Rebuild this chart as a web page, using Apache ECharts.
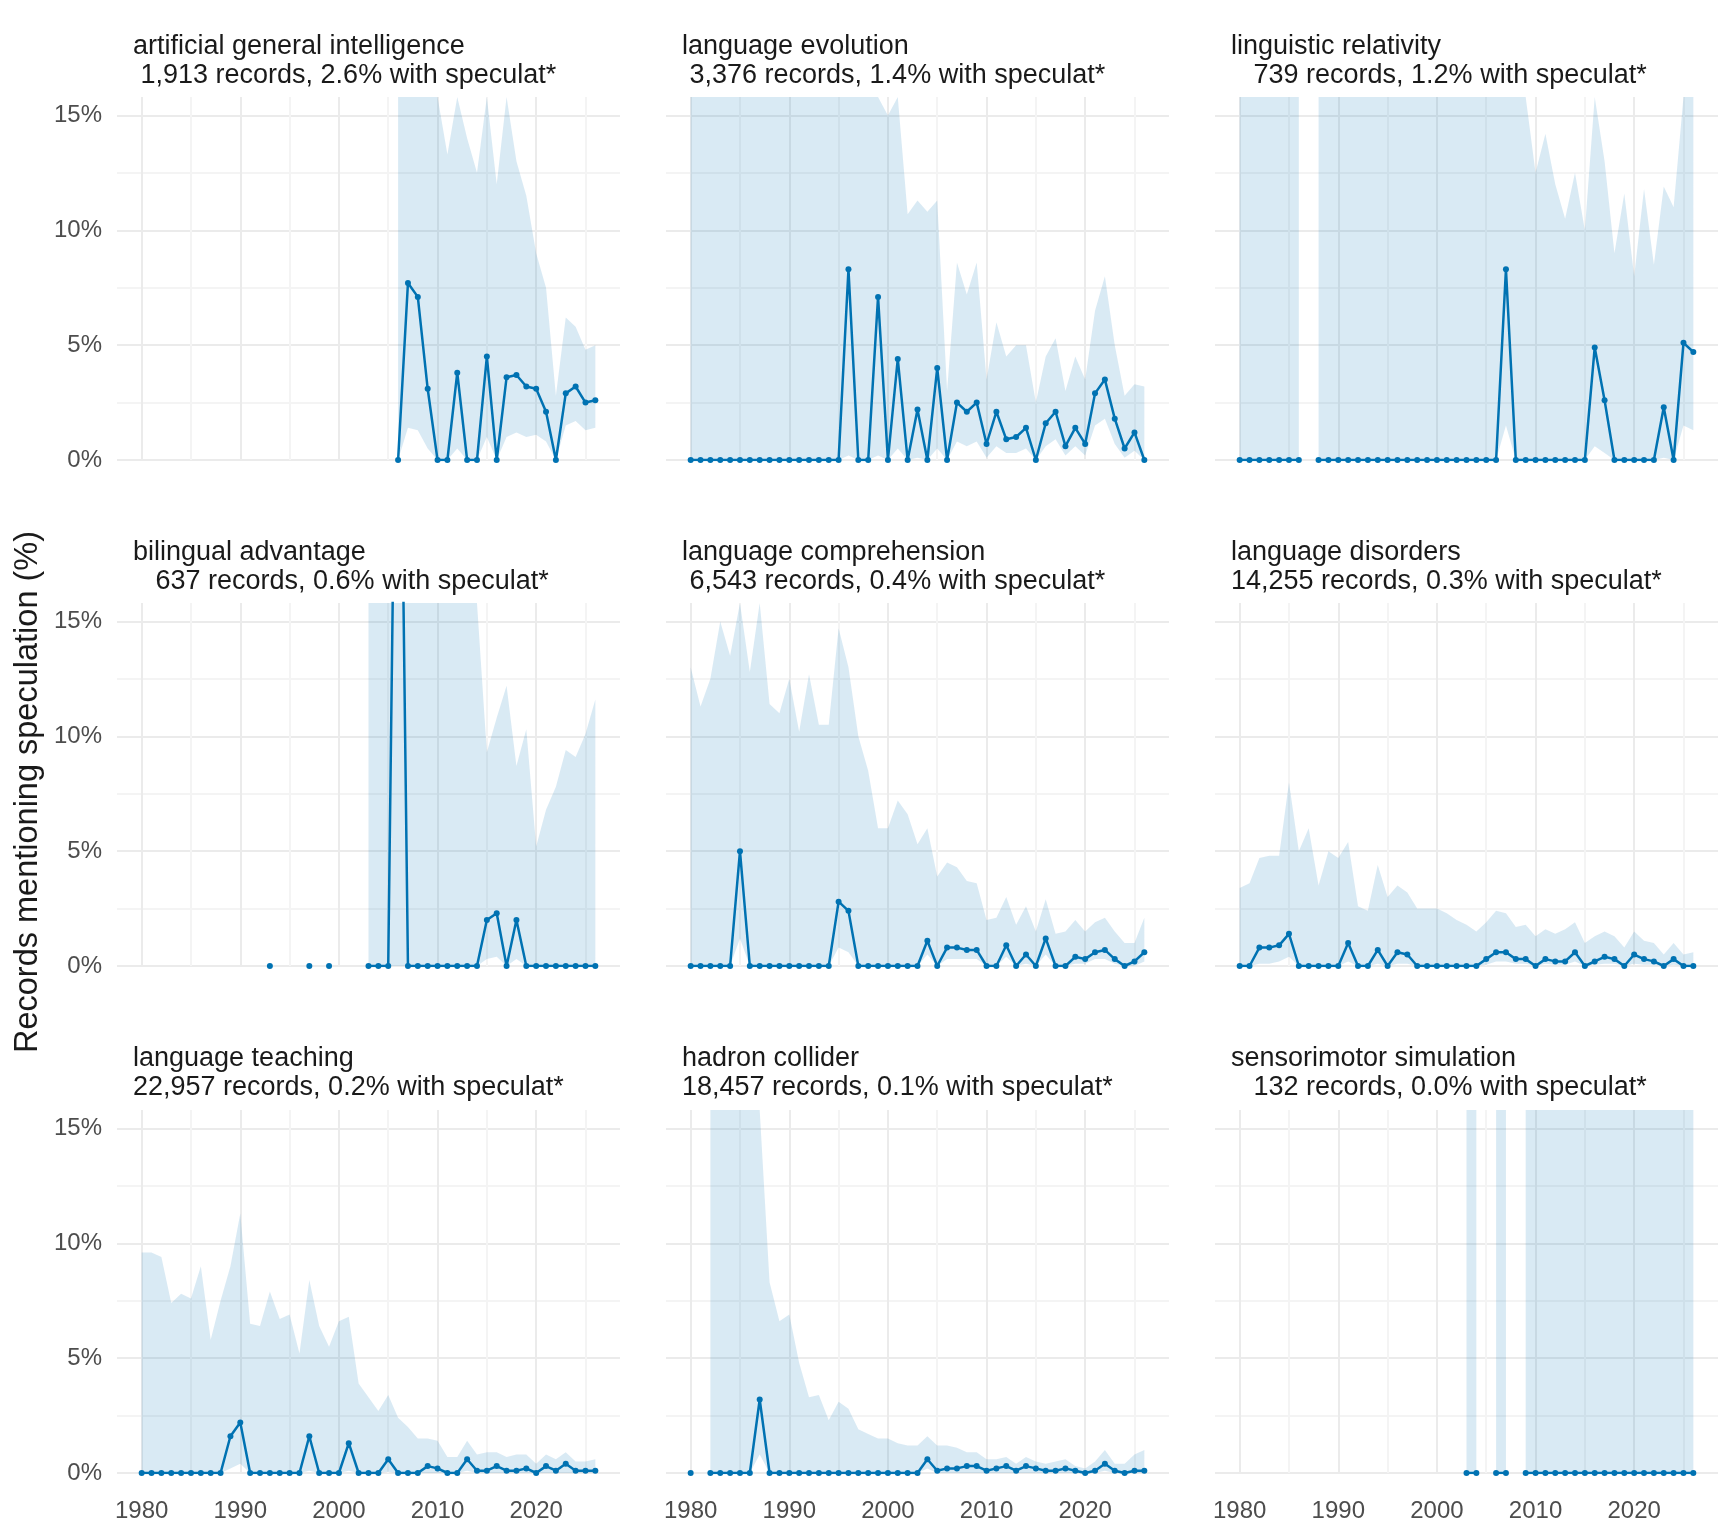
<!DOCTYPE html>
<html style="height: 100%">
<head>
<meta charset="utf-8">
<script src="https://cdn.jsdelivr.net/npm/echarts@6/dist/echarts.min.js"></script>
</head>
<body style="height: 100%; margin: 0; background: #fff">
<div id="container" style="width: 1728px; height: 1536px;"></div>
<script>
// years 1980..2026, one value per year (null = no data); 40 = above the visible range
var titles = [
	'artificial general intelligence\n 1,913 records, 2.6% with speculat*',
	'language evolution\n 3,376 records, 1.4% with speculat*',
	'linguistic relativity\n   739 records, 1.2% with speculat*',
	'bilingual advantage\n   637 records, 0.6% with speculat*',
	'language comprehension\n 6,543 records, 0.4% with speculat*',
	'language disorders\n14,255 records, 0.3% with speculat*',
	'language teaching\n22,957 records, 0.2% with speculat*',
	'hadron collider\n18,457 records, 0.1% with speculat*',
	'sensorimotor simulation\n   132 records, 0.0% with speculat*'
];
var N = null;
// artificial general intelligence (from 2006)
var agiPct = [0,7.7,7.1,3.1,0,0,3.8,0,0,4.5,0,3.6,3.7,3.2,3.1,2.1,0,2.9,3.2,2.5,2.6];
var agiLo  = [0,1.4,1.3,0.5,0,0,0.5,0,0,1.0,0,1.0,1.2,1.0,1.1,0.8,0,1.5,1.7,1.3,1.4];
var agiHi  = [40,40,40,40,40,13.3,40,14,12.5,40,12,40,13,11.5,9,7.5,2.8,6.2,5.8,4.8,5.0];
// language evolution
var evoPct = [0,0,0,0,0,0,0,0,0,0,0,0,0,0,0,0,
	8.3,0,0,7.1,0,4.4,0,2.2,0,4.0,0,2.5,2.1,2.5,0.7,2.1,0.9,1.0,1.4,0,1.6,2.1,0.6,1.4,0.7,2.9,3.5,1.8,0.5,1.2,0];
var evoLo  = [0,0,0,0,0,0,0,0,0,0,0,0,0,0,0,0,
	0.2,0,0,0.2,0,0.5,0,0.1,0,0.5,0,0.8,0.6,0.8,0.1,0.6,0.3,0.3,0.5,0,0.6,0.9,0.2,0.6,0.2,1.5,1.8,0.7,0.1,0.4,0];
var evoHi  = [40,40,40,40,40,40,40,40,40,40,40,40,40,40,40,40,40,40,40,
	40,15,40,10.7,11.3,10.8,11.3,3.0,8.6,7.2,8.6,3.5,6.0,4.5,5.0,5.0,2.5,4.5,5.3,3.0,4.5,3.5,6.5,8.0,5.0,2.8,3.3,3.2];
// linguistic relativity
var relPct = [0,0,0,0,0,0,0,N,0,0,0,0,0,0,0,0,0,0,0,0,0,0,0,0,0,0,0,
	8.3,0,0,0,0,0,0,0,0,4.9,2.6,0,0,0,0,0,2.3,0,5.1,4.7];
var relLo  = [0,0,0,0,0,0,0,N,0,0,0,0,0,0,0,0,0,0,0,0,0,0,0,0,0,0,0,
	1.5,0,0,0,0,0,0,0,0,0.6,0.3,0,0,0,0,0,0.1,0,1.5,1.3];
var relHi  = [40,40,40,40,40,40,40,N,40,40,40,40,40,40,40,40,40,40,40,40,40,40,40,40,40,40,40,40,40,40,
	12.5,14.2,12,10.5,12.5,10,40,13,9.0,11.6,8.0,11.8,8.5,11.9,11.0,40,40];
// bilingual advantage
var bilPct = [N,N,N,N,N,N,N,N,N,N,N,N,N,0,N,N,N,0,N,0,N,N,N,
	0,0,0,35,0,0,0,0,0,0,0,0,2.0,2.3,0,2.0,0,0,0,0,0,0,0,0];
var bilLo  = [N,N,N,N,N,N,N,N,N,N,N,N,N,N,N,N,N,N,N,N,N,N,N,
	0,0,0,0,0,0,0,0,0,0,0,0,0.3,0.4,0,0.3,0,0,0,0,0,0,0,0];
var bilHi  = [N,N,N,N,N,N,N,N,N,N,N,N,N,N,N,N,N,N,N,N,N,N,N,
	40,40,40,40,40,40,40,40,40,40,40,40,9.3,10.8,12.2,8.7,10.3,5.2,6.8,7.8,9.4,9.1,10.1,11.6];
// language comprehension
var comPct = [0,0,0,0,0,5.0,0,0,0,0,0,0,0,0,0,2.8,2.4,0,0,0,0,0,0,0,
	1.1,0,0.8,0.8,0.7,0.7,0,0,0.9,0,0.5,0,1.2,0,0,0.4,0.3,0.6,0.7,0.3,0,0.2,0.6];
var comLo  = [0,0,0,0,0,1.2,0,0,0,0,0,0,0,0,0,0.8,0.6,0,0,0,0,0,0,0,
	0.5,0,0.3,0.3,0.3,0.3,0,0,0.4,0,0.1,0,0.5,0,0,0.1,0.1,0.3,0.3,0.1,0,0,0.2];
var comHi  = [13.0,11.3,12.5,15.0,13.5,40,12.8,40,11.4,11.0,12.5,10.2,12.7,10.5,10.5,14.7,13.0,10.0,8.5,6.0,
	6.0,7.2,6.6,5.3,6.0,3.9,4.5,4.3,3.7,3.6,2.0,2.1,3.0,1.8,2.6,1.5,2.9,1.4,1.5,2.0,1.5,1.9,2.1,1.5,1.0,1.0,2.1];
// language disorders
var disPct = [0,0,0.8,0.8,0.9,1.4,0,0,0,0,0,1.0,0,0,0.7,0,0.6,0.5,0,0,
	0,0,0,0,0,0.3,0.6,0.6,0.3,0.3,0,0.3,0.2,0.2,0.6,0,0.2,0.4,0.3,0,0.5,0.3,0.2,0,0.3,0,0];
var disLo  = [0,0,0.1,0.1,0.2,0.4,0,0,0,0,0,0.2,0,0,0.1,0,0.1,0.1,0,0,
	0,0,0,0,0,0.05,0.2,0.2,0.1,0.1,0,0.1,0.05,0.05,0.2,0,0.05,0.1,0.1,0,0.1,0.05,0.05,0,0.05,0,0];
var disHi  = [3.4,3.6,4.7,4.8,4.8,8.0,5.0,6.0,3.5,5.0,4.7,5.4,2.6,2.4,4.4,3.0,3.5,3.2,2.5,2.5,
	2.5,2.3,2.0,1.8,1.5,1.9,2.4,2.3,1.7,1.8,1.3,1.6,1.4,1.6,1.9,1.0,1.3,1.5,1.3,0.8,1.5,1.1,1.0,0.5,1.0,0.5,0.6];
// language teaching
var teaPct = [0,0,0,0,0,0,0,0,0,1.6,2.2,0,0,0,0,0,0,1.6,0,0,0,1.3,0,0,0,0.6,0,0,0,
	0.3,0.2,0,0,0.6,0.1,0.1,0.3,0.1,0.1,0.2,0,0.3,0.1,0.4,0.1,0.1,0.1];
var teaLo  = [0,0,0,0,0,0,0,0,0,0.2,0.4,0,0,0,0,0,0,0.1,0,0,0,0.1,0,0,0,0.05,0,0,0,
	0,0,0,0,0.1,0,0,0,0,0,0,0,0,0,0,0,0,0];
var teaHi  = [9.6,9.6,9.4,7.4,7.8,7.6,9.0,5.8,7.5,9.0,11.3,6.5,6.4,7.9,6.7,6.9,5.2,8.4,6.4,5.5,
	6.6,6.8,3.9,3.3,2.7,3.4,2.4,2.0,1.5,1.5,1.4,0.7,0.7,1.4,0.8,0.9,0.9,0.7,0.8,0.8,0.4,0.8,0.6,0.9,0.5,0.5,0.6];
// hadron collider
var hadPct = [0,N,0,0,0,0,0,3.2,0,0,0,0,0,0,0,0,0,0,0,0,0,0,0,0,
	0.6,0.1,0.2,0.2,0.3,0.3,0.1,0.2,0.3,0.1,0.3,0.2,0.1,0.1,0.2,0.1,0,0.1,0.4,0.1,0,0.1,0.1];
var hadLo  = [N,N,0,0,0,0,0,0.8,0,0,0,0,0,0,0,0,0,0,0,0,0,0,0,0,
	0.2,0,0,0,0,0,0,0,0,0,0,0,0,0,0,0,0,0,0.1,0,0,0,0];
var hadHi  = [N,N,40,40,40,40,40,40,8.3,6.6,6.9,4.8,3.3,3.4,2.3,3.1,2.8,1.9,1.7,1.5,
	1.5,1.3,1.2,1.2,1.6,1.2,1.2,1.1,0.9,0.9,0.6,0.6,0.7,0.4,0.7,0.5,0.4,0.5,0.6,0.3,0.2,0.5,1.0,0.4,0.4,0.8,1.0];
// sensorimotor simulation
var senPct = [N,N,N,N,N,N,N,N,N,N,N,N,N,N,N,N,N,N,N,N,N,N,N,0,0,N,0,0,N,0,0,0,0,0,0,0,0,0,0,0,0,0,0,0,0,0,0];
var senLo  = [N,N,N,N,N,N,N,N,N,N,N,N,N,N,N,N,N,N,N,N,N,N,N,0,0,N,0,0,N,0,0,0,0,0,0,0,0,0,0,0,0,0,0,0,0,0,0];
var senHi  = [N,N,N,N,N,N,N,N,N,N,N,N,N,N,N,N,N,N,N,N,N,N,N,40,40,N,40,40,N,40,40,40,40,40,40,40,40,40,40,40,40,40,40,40,40,40,40];

var panels = [
	[agiPct, agiLo, agiHi, 2006], [evoPct, evoLo, evoHi, 1980], [relPct, relLo, relHi, 1980],
	[bilPct, bilLo, bilHi, 1980], [comPct, comLo, comHi, 1980], [disPct, disLo, disHi, 1980],
	[teaPct, teaLo, teaHi, 1980], [hadPct, hadLo, hadHi, 1980], [senPct, senLo, senHi, 1980]
];

var font = 'Liberation Sans, Arial, sans-serif';
var lefts = [117, 666, 1215];
var tops = [97, 603, 1110];
var titleTops = [27, 533, 1039];
var titleLefts = [128, 677, 1226];
var W = 503, H = 363, YMAX = 15.8;
var major = '#ebebeb', minor = '#f4f4f4', clear = 'rgba(0,0,0,0)';

var dom = document.getElementById("container");
var myChart = echarts.init(dom);
var grid = [], xAxis = [], yAxis = [], series = [], title = [];

function pairs(arr, y0) {
	return arr.map(function (v, i) { return [y0 + i, v]; });
}
// contiguous runs of non-null upper bounds -> [startIndex, endIndex]
function runs(hi) {
	var out = [], s = -1;
	for (var i = 0; i <= hi.length; i++) {
		if (i < hi.length && hi[i] !== null) { if (s < 0) s = i; }
		else if (s >= 0) { out.push([s, i - 1]); s = -1; }
	}
	return out;
}
function ribbonRender(d) {
	return function (params, api) {
		var s = api.value(0), e = api.value(1), pts = [], i;
		if (s === e) return null;
		for (i = s; i <= e; i++) pts.push(api.coord([d[3] + i, Math.min(d[2][i], YMAX)]));
		for (i = e; i >= s; i--) pts.push(api.coord([d[3] + i, Math.min(d[1][i], YMAX)]));
		return { type: 'polygon', shape: { points: pts }, style: { fill: 'rgba(0,114,178,0.15)' } };
	};
}

for (var p = 0; p < 9; p++) {
	var r = Math.floor(p / 3), c = p % 3;
	grid.push({ left: lefts[c], top: tops[r], width: W, height: H });
	title.push({
		text: titles[p], left: titleLefts[c], top: titleTops[r],
		textStyle: { fontFamily: font, fontSize: 27, fontWeight: 'normal', color: '#1a1a1a', lineHeight: 29 }
	});
	xAxis.push({
		type: 'value', gridIndex: p, min: 1977.5, max: 2028.5, interval: 2.5,
		axisLine: { show: false }, axisTick: { show: false },
		axisLabel: {
			show: r === 2, margin: 26, fontFamily: font, fontSize: 24, color: '#4d4d4d',
			formatter: function (v) { return v % 10 === 0 ? String(v) : ''; }
		},
		splitLine: { show: true, showMinLine: false, showMaxLine: false,
			lineStyle: { width: 2, color: [major, clear, minor, clear] } }
	});
	yAxis.push({
		type: 'value', gridIndex: p, min: 0, max: YMAX, interval: 2.5,
		axisLine: { show: false }, axisTick: { show: false },
		axisLabel: {
			show: c === 0, margin: 15, fontFamily: font, fontSize: 24, color: '#4d4d4d',
			formatter: function (v) { return v % 5 === 0 ? v + '%' : ''; }
		},
		splitLine: { show: true, showMaxLine: false, lineStyle: { width: 2, color: [major, minor] } }
	});
	var d = panels[p];
	series.push({
		type: 'custom', xAxisIndex: p, yAxisIndex: p, renderItem: ribbonRender(d),
		data: runs(d[2]), silent: true, z: 1, encode: { x: [], y: [] }
	});
	series.push({
		type: 'line', xAxisIndex: p, yAxisIndex: p, symbol: 'circle', symbolSize: 6,
		itemStyle: { color: '#0072B2' }, lineStyle: { color: '#0072B2', width: 2.5 },
		data: pairs(d[0], d[3]), z: 3
	});
}

var option = {
	animation: false,
	backgroundColor: '#fff',
	title: title,
	grid: grid,
	xAxis: xAxis,
	yAxis: yAxis,
	series: series,
	graphic: [{
		type: 'text', x: 28, y: 792, rotation: Math.PI / 2,
		style: { text: 'Records mentioning speculation (%)', fontFamily: font, fontSize: 32.5,
			fill: '#1a1a1a', textAlign: 'center', textVerticalAlign: 'middle' }
	}]
};
myChart.setOption(option, true);
</script>
</body>
</html>
